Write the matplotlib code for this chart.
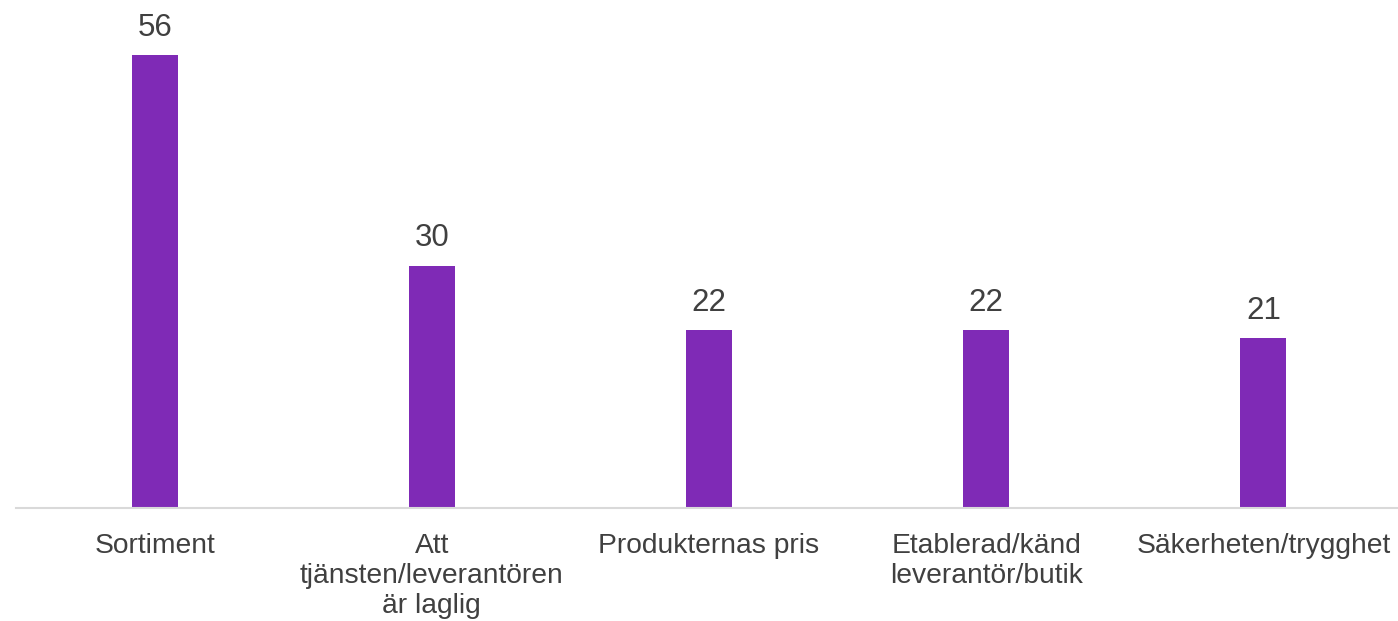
import matplotlib.pyplot as plt

# categories and values
categories = ['Sortiment', 'Att\ntjänsten/leverantören\när laglig', 'Produkternas pris',
              'Etablerad/känd\nleverantör/butik', 'Säkerheten/trygghet']
values = [56, 30, 22, 22, 21]

plt.rcParams['font.family'] = ['Liberation Sans', 'DejaVu Sans']

fig = plt.figure(figsize=(13.98, 6.21), dpi=100)
ax = fig.add_axes([16/1398, 113/621, 1386/1398, 485/621])

x = range(len(categories))
bars = ax.bar(x, values, width=0.166, color='#7F2AB6')
for b, v in zip(bars, values):
    ax.annotate(str(v), (b.get_x() + b.get_width()/2, v), xytext=(0, 9),
                textcoords='offset points', ha='center', va='bottom',
                fontsize=22.5, color='#404040')

ax.set_xlim(-0.5, 4.5)
ax.set_ylim(0, 60)
ax.set_xticks(list(x))
ax.set_xticklabels(categories, fontsize=20.3, color='#404040', linespacing=1.2)
ax.tick_params(axis='x', length=0, pad=18)
ax.set_yticks([])
for s in ['top', 'right', 'left']:
    ax.spines[s].set_visible(False)
ax.spines['bottom'].set_color('#d9d9d9')
ax.spines['bottom'].set_linewidth(1.5)

fig.savefig('out.png', dpi=100)
